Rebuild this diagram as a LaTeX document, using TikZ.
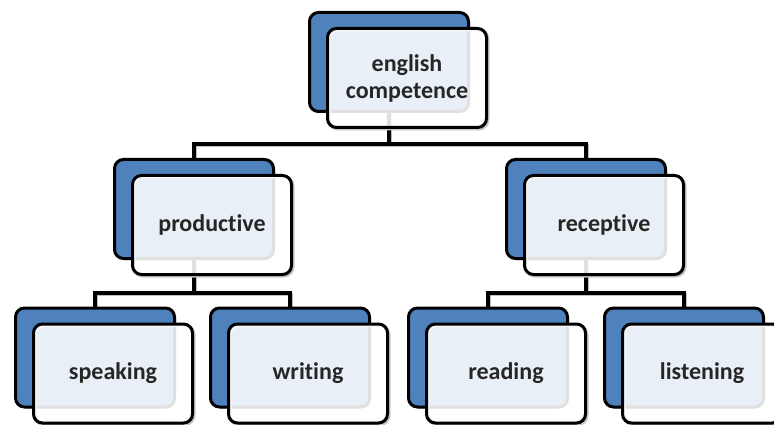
\documentclass[tikz,border=0pt]{standalone}
\usepackage{fontspec}
\setmainfont{Carlito}[Ligatures={NoCommon}]
\usetikzlibrary{shadows}
\pgfdeclarelayer{bg}
\pgfsetlayers{bg,main}
\definecolor{boxblue}{HTML}{4F81BD}
\definecolor{txt}{HTML}{262626}
\tikzset{
  backbox/.style={draw=black, line width=3pt, fill=boxblue, rounded corners=9pt,
    minimum width=159pt, minimum height=99pt, inner sep=0pt,
    drop shadow={shadow xshift=1.5pt, shadow yshift=-1.5pt, fill=black, opacity=0.25}},
  frontbox/.style={draw=black, line width=3pt, fill=white, fill opacity=0.88, draw opacity=1,
    text opacity=1, rounded corners=9pt, text=txt,
    minimum width=159pt, minimum height=99pt, inner sep=0pt, align=center,
    font=\bfseries\fontsize{24}{27}\selectfont},
  frontshadow/.style={draw=black!22, line width=3pt, rounded corners=9pt,
    minimum width=159pt, minimum height=99pt, inner sep=0pt},
  conn/.style={draw=black, line width=3.3pt},
  connshadow/.style={draw=black!25, line width=3pt, transform canvas={xshift=1.3pt, yshift=-1.5pt}}
}
\begin{document}
\begin{tikzpicture}[x=1pt,y=-1pt]
\useasboundingbox (0,0) rectangle (774,425);
\coordinate (j1) at (389,144);
\coordinate (j2) at (194,293);
\coordinate (j3) at (586,293);
% level 1
\node[backbox] (top) at (389,62) {};
\node[frontshadow] (tops) at (408.5,79.5) {};
\node[frontbox] (topf) at (407,78) {english\\competence};
% level 2
\node[backbox] (prod) at (194,209) {};
\node[frontshadow] (prods) at (213.5,226.5) {};
\node[frontbox] (prodf) at (212,225) {productive};
\node[backbox] (rec) at (586,209) {};
\node[frontshadow] (recs) at (605.5,226.5) {};
\node[frontbox] (recf) at (604,225) {receptive};
% level 3
\node[backbox] (speak) at (95,357.5) {};
\node[frontshadow] (speaks) at (114.5,375) {};
\node[frontbox] (speakf) at (113,373.5) {speaking};
\node[backbox] (writ) at (290,357.5) {};
\node[frontshadow] (writs) at (309.5,375) {};
\node[frontbox] (writf) at (308,373.5) {writing};
\node[backbox] (read) at (488,357.5) {};
\node[frontshadow] (reads) at (507.5,375) {};
\node[frontbox] (readf) at (506,373.5) {reading};
\node[backbox] (list) at (684,357.5) {};
\node[frontshadow] (lists) at (703.5,375) {};
\node[frontbox] (listf) at (702,373.5) {listening};
% connectors
\begin{pgfonlayer}{bg}
  \foreach \s in {connshadow,conn}{
    \draw[\s] (top.south) -- (j1);
    \draw[\s] (prod.north) |- (j1) -| (rec.north);
    \draw[\s] (prod.south) -- (j2);
    \draw[\s] (speak.north) |- (j2) -| (writ.north);
    \draw[\s] (rec.south) -- (j3);
    \draw[\s] (read.north) |- (j3) -| (list.north);
  }
\end{pgfonlayer}
\end{tikzpicture}
\end{document}
